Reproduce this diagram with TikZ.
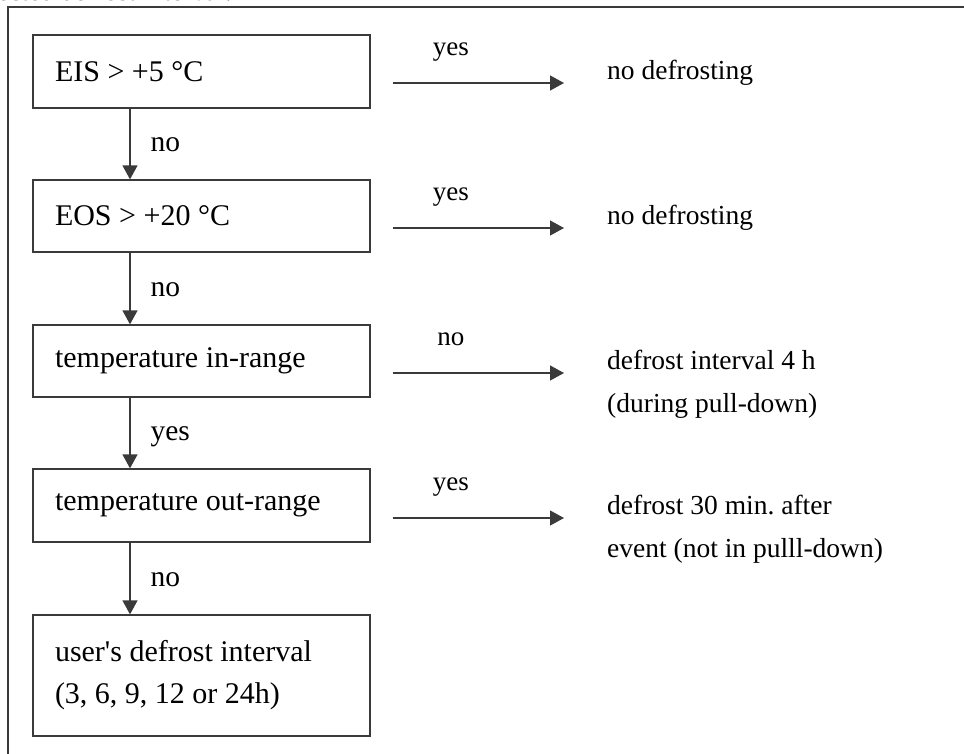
\documentclass[tikz,border=0pt]{standalone}
\usepackage{fontspec}
\newfontfamily\plainfont{Liberation Serif}
\usetikzlibrary{arrows.meta}
\definecolor{ink}{HTML}{3A3A3A}
\frenchspacing
\begin{document}
\begin{tikzpicture}[x=1pt,y=1pt,
  every node/.style={text=black},
  box/.style={draw=ink, line width=1.3pt, rectangle, minimum width=337pt,
    text width=293pt, inner xsep=22pt, inner ysep=0pt, align=flush left,
    font=\plainfont\fontsize{30}{42}\selectfont},
  outcome/.style={anchor=base west, inner sep=0pt, align=left,
    font=\plainfont\fontsize{27.5}{43}\selectfont},
  flow/.style={draw=ink, line width=1.3pt, -{Triangle[length=14pt,width=15pt]}},
  hlbl/.style={inner sep=0pt, anchor=base, font=\plainfont\fontsize{27}{32}\selectfont},
  vlbl/.style={inner sep=0pt, anchor=base west, font=\plainfont\fontsize{29.5}{32}\selectfont}
]
\useasboundingbox (0,0) rectangle (964,-753);
% outer frame (cropped)
\draw[ink, line width=1.3pt] (8,-770) -- (8,-7) -- (980,-7);
\node[hlbl, anchor=base east] (cap) at (232,0) {selected defrost interval.};

% decision boxes
\node[box, minimum height=73pt] (b1) at (201.5,-71.5) {EIS > +5 °C};
\node[box, minimum height=72pt] (b2) at (201.5,-216) {EOS > +20 °C};
\node[box, minimum height=72pt] (b3) at (201.5,-361) {temperature in-range};
\node[box, minimum height=73pt] (b4) at (201.5,-505.5) {temperature out-range};
\node[box, minimum height=121pt] (b5) at (201.5,-675.5) {user's defrost interval\\(3, 6, 9, 12 or 24h)};

% outcomes
\node[outcome] (r1) at (607,-79.5) {no defrosting};
\node[outcome] (r2) at (607,-224.5) {no defrosting};
\node[outcome] (r3) at (607,-412) {defrost interval 4 h\\(during pull-down)};
\node[outcome] (r4) at (607,-557) {defrost 30 min.\ after\\event (not in pulll-down)};

% vertical connectors
\foreach \a/\b/\t in {b1/b2/no, b2/b3/no, b3/b4/yes, b4/b5/no}{
  \draw[flow] (\a.south -| 130,0) -- (\b.north -| 130,0)
    node[vlbl, midway, xshift=20pt, yshift=-7.5pt] {\t};
}

% horizontal connectors
\draw[flow] ([shift={(22,-11.5)}]b1.east) coordinate (s1) -- (564,0 |- s1)
  node[hlbl, pos=0.34, yshift=27.5pt] {yes};
\draw[flow] ([shift={(22,-12)}]b2.east) coordinate (s2) -- (564,0 |- s2)
  node[hlbl, pos=0.34, yshift=27.5pt] {yes};
\draw[flow] ([shift={(22,-12)}]b3.east) coordinate (s3) -- (564,0 |- s3)
  node[hlbl, pos=0.34, yshift=27.5pt] {no};
\draw[flow] ([shift={(22,-12.5)}]b4.east) coordinate (s4) -- (564,0 |- s4)
  node[hlbl, pos=0.34, yshift=27.5pt] {yes};
\end{tikzpicture}
\end{document}
